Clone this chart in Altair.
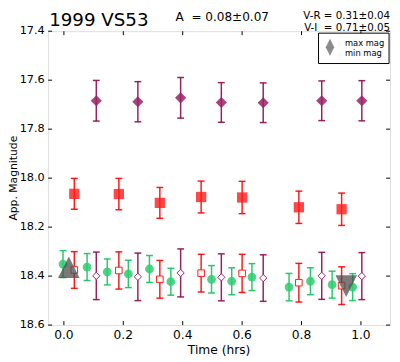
import altair as alt
import pandas as pd

# ---------------- data ----------------
# V band (green circles)
V_time = [-0.003, 0.078, 0.146, 0.217, 0.288, 0.360, 0.497, 0.565, 0.633, 0.758, 0.830, 0.903, 0.972]
V_mag = [18.351, 18.363, 18.383, 18.391, 18.371, 18.423, 18.413, 18.421, 18.404, 18.445, 18.421, 18.435, 18.445]
V_err = [0.055, 0.055, 0.053, 0.056, 0.055, 0.055, 0.056, 0.055, 0.055, 0.056, 0.055, 0.055, 0.055]

# R band (red squares) observed and colour-corrected
R_time = [0.035, 0.185, 0.323, 0.462, 0.600, 0.791, 0.935]
R_mag = [18.064, 18.065, 18.101, 18.077, 18.079, 18.119, 18.127]
R_err = [0.063, 0.064, 0.063, 0.065, 0.066, 0.066, 0.066]
Rc_mag = [18.375, 18.377, 18.413, 18.388, 18.389, 18.427, 18.439]
Rc_err = [0.075, 0.076, 0.077, 0.077, 0.078, 0.079, 0.077]

# I band (purple diamonds) observed and colour-corrected
I_time = [0.109, 0.249, 0.393, 0.530, 0.671, 0.868, 1.003]
I_mag = [17.684, 17.688, 17.672, 17.691, 17.692, 17.684, 17.684]
I_err = [0.083, 0.082, 0.083, 0.081, 0.081, 0.081, 0.082]
Ic_mag = [18.399, 18.403, 18.387, 18.405, 18.408, 18.399, 18.400]
Ic_err = [0.097, 0.097, 0.098, 0.096, 0.095, 0.096, 0.096]

# light-curve extremes
MAX_time = [0.0165]
MAX_mag = [18.364]
MIN_time = [0.9505]
MIN_mag = [18.441]

X_DOMAIN = [-0.053, 1.098]
Y_DOMAIN = [17.4, 18.6]
X_TICKS = [0.0, 0.2, 0.4, 0.6, 0.8, 1.0]
X_TICK_LABELS = ["0.0", "0.2", "0.4", "0.6", "0.8", "1.0"]
Y_TICKS = [17.4, 17.6, 17.8, 18.0, 18.2, 18.4, 18.6]
Y_TICK_LABELS = ["17.4", "17.6", "17.8", "18.0", "18.2", "18.4", "18.6"]

TITLE = "1999 VS53"
AMP = "A\u00a0\u00a0= 0.08\u00b10.07"
VR = "V-R = 0.31\u00b10.04"
VI = "V-I\u00a0\u00a0= 0.71\u00b10.05"
LEG = ["max mag", "min mag"]
X_TITLE = "Time (hrs)"
Y_TITLE = "App. Magnitude"

# ---------------- chart ----------------
W, H = 349, 300
FONT = "DejaVu Sans"
TRI_UP = "M0,-1L-1,1L1,1Z"
TRI_DN = "M0,1L-1,-1L1,-1Z"

xs = alt.Scale(domain=X_DOMAIN, nice=False, zero=False)
ys = alt.Scale(domain=Y_DOMAIN, reverse=True, nice=False, zero=False)


def frame(t, m, e=None):
    d = {"t": t, "mag": m}
    if e is not None:
        d["lo"] = [a - b for a, b in zip(m, e)]
        d["hi"] = [a + b for a, b in zip(m, e)]
    return pd.DataFrame(d)


def errbars(df, color, opacity=0.9):
    base = alt.Chart(df)
    X = alt.X("t:Q", scale=xs, axis=None)
    rule = base.mark_rule(color=color, strokeWidth=1.5, opacity=opacity).encode(
        x=X, y=alt.Y("lo:Q", scale=ys, axis=None), y2="hi:Q")
    c1 = base.mark_tick(color=color, orient="horizontal", size=7, thickness=1.5,
                        opacity=opacity).encode(x=X, y=alt.Y("lo:Q", scale=ys, axis=None))
    c2 = base.mark_tick(color=color, orient="horizontal", size=7, thickness=1.5,
                        opacity=opacity).encode(x=X, y=alt.Y("hi:Q", scale=ys, axis=None))
    return [rule, c1, c2]


def points(df, shape, size, fill, stroke=None, opacity=1.0, sw=1.0):
    X = alt.X("t:Q", scale=xs, axis=None)
    Y = alt.Y("mag:Q", scale=ys, axis=None)
    kw = dict(shape=shape, size=size, filled=True, fill=fill, fillOpacity=opacity)
    if stroke is not None:
        kw.update(stroke=stroke, strokeWidth=sw, strokeOpacity=1)
    else:
        kw.update(strokeWidth=0)
    return alt.Chart(df).mark_point(**kw).encode(x=X, y=Y)


dV = frame(V_time, V_mag, V_err)
dR = frame(R_time, R_mag, R_err)
dRc = frame(R_time, Rc_mag, Rc_err)
dI = frame(I_time, I_mag, I_err)
dIc = frame(I_time, Ic_mag, Ic_err)
dMax = frame(MAX_time, MAX_mag)
dMin = frame(MIN_time, MIN_mag)

GREEN_L, GREEN_P = "#12c25c", "#2ecc71"
RED_L, RED_P = "#ff0000", "#ff1a1a"
PUR_L, PUR_P = "#8c0a4b", "#9a2266"

layers = []
layers += errbars(dV, GREEN_L)
layers += errbars(dR, RED_L)
layers += errbars(dRc, RED_L)
layers += errbars(dI, PUR_L)
layers += errbars(dIc, PUR_L)
layers.append(points(dV, "circle", 80, GREEN_P, opacity=0.85))
layers.append(points(dR, "square", 110, RED_P, opacity=0.8))
layers.append(points(dRc, "square", 45, "white", stroke=RED_P, sw=1))
layers.append(points(dI, "diamond", 130, PUR_P, opacity=0.85))
layers.append(points(dIc, "diamond", 55, "white", stroke=PUR_P, sw=1))
layers.append(points(dMax, TRI_UP, 484, "#4d4d4d", opacity=0.75))
layers.append(points(dMin, TRI_DN, 484, "#4d4d4d", opacity=0.75))

# inward tick marks on all four sides + tick labels
xt = pd.DataFrame({"v": X_TICKS, "lab": X_TICK_LABELS})
yt = pd.DataFrame({"v": Y_TICKS, "lab": Y_TICK_LABELS})
TX = alt.X("v:Q", scale=xs, axis=None)
TY = alt.Y("v:Q", scale=ys, axis=None)
layers.append(alt.Chart(xt).mark_rule(color="black", strokeWidth=1).encode(
    x=TX, y=alt.value(H), y2=alt.value(H - 4)))
layers.append(alt.Chart(xt).mark_rule(color="black", strokeWidth=1).encode(
    x=TX, y=alt.value(0), y2=alt.value(4)))
layers.append(alt.Chart(yt).mark_rule(color="black", strokeWidth=1).encode(
    y=TY, x=alt.value(0), x2=alt.value(4)))
layers.append(alt.Chart(yt).mark_rule(color="black", strokeWidth=1).encode(
    y=TY, x=alt.value(W - 4), x2=alt.value(W)))
layers.append(alt.Chart(xt).mark_text(font=FONT, fontSize=12.5, align="center",
                                      baseline="alphabetic", color="black").encode(
    x=TX, y=alt.value(H + 14), text="lab:N"))
layers.append(alt.Chart(yt).mark_text(font=FONT, fontSize=11.5, align="right",
                                      baseline="middle", color="black").encode(
    y=TY, x=alt.value(-3.5), text="lab:N"))

one = pd.DataFrame({"k": [0]})


def label(text, x, y, size, align="left", angle=0):
    return alt.Chart(one).mark_text(
        text=text, font=FONT, fontSize=size, align=align, baseline="alphabetic",
        angle=angle, color="black").encode(x=alt.value(x), y=alt.value(y))


layers.append(label(X_TITLE, W / 2, H + 30, 12.5, align="center"))
layers.append(label(Y_TITLE, -31.5, H / 2, 11, align="center", angle=270))
layers.append(label(TITLE, 1, -5.5, 18.6))
layers.append(label(AMP, 130, -10.5, 12.3))
layers.append(label(VR, W, -12.2, 10.5, align="right"))
layers.append(label(VI, W, -0.6, 10.5, align="right"))

# legend box
layers.append(alt.Chart(one).mark_rect(fill="white", stroke="black", strokeWidth=1).encode(
    x=alt.value(276), x2=alt.value(W - 1), y=alt.value(2), y2=alt.value(33)))
layers.append(alt.Chart(one).mark_point(shape=TRI_UP, size=81, filled=True, fill="#808080",
                                        fillOpacity=0.9, strokeWidth=0).encode(
    x=alt.value(287.7), y=alt.value(12.2)))
layers.append(alt.Chart(one).mark_point(shape=TRI_DN, size=81, filled=True, fill="#808080",
                                        fillOpacity=0.9, strokeWidth=0).encode(
    x=alt.value(287.7), y=alt.value(20.5)))
layers.append(label(LEG[0], 303, 14.7, 8.5))
layers.append(label(LEG[1], 303, 25.3, 8.5))

chart = alt.layer(*layers).properties(
    width=W, height=H,
    padding={"left": 41, "top": 20, "right": 2, "bottom": 34},
    autosize=alt.AutoSizeParams(type="none"),
).configure_view(stroke="black", strokeWidth=1).configure(font=FONT)

chart.save("out.html", embed_options={"renderer": "svg", "actions": False})
